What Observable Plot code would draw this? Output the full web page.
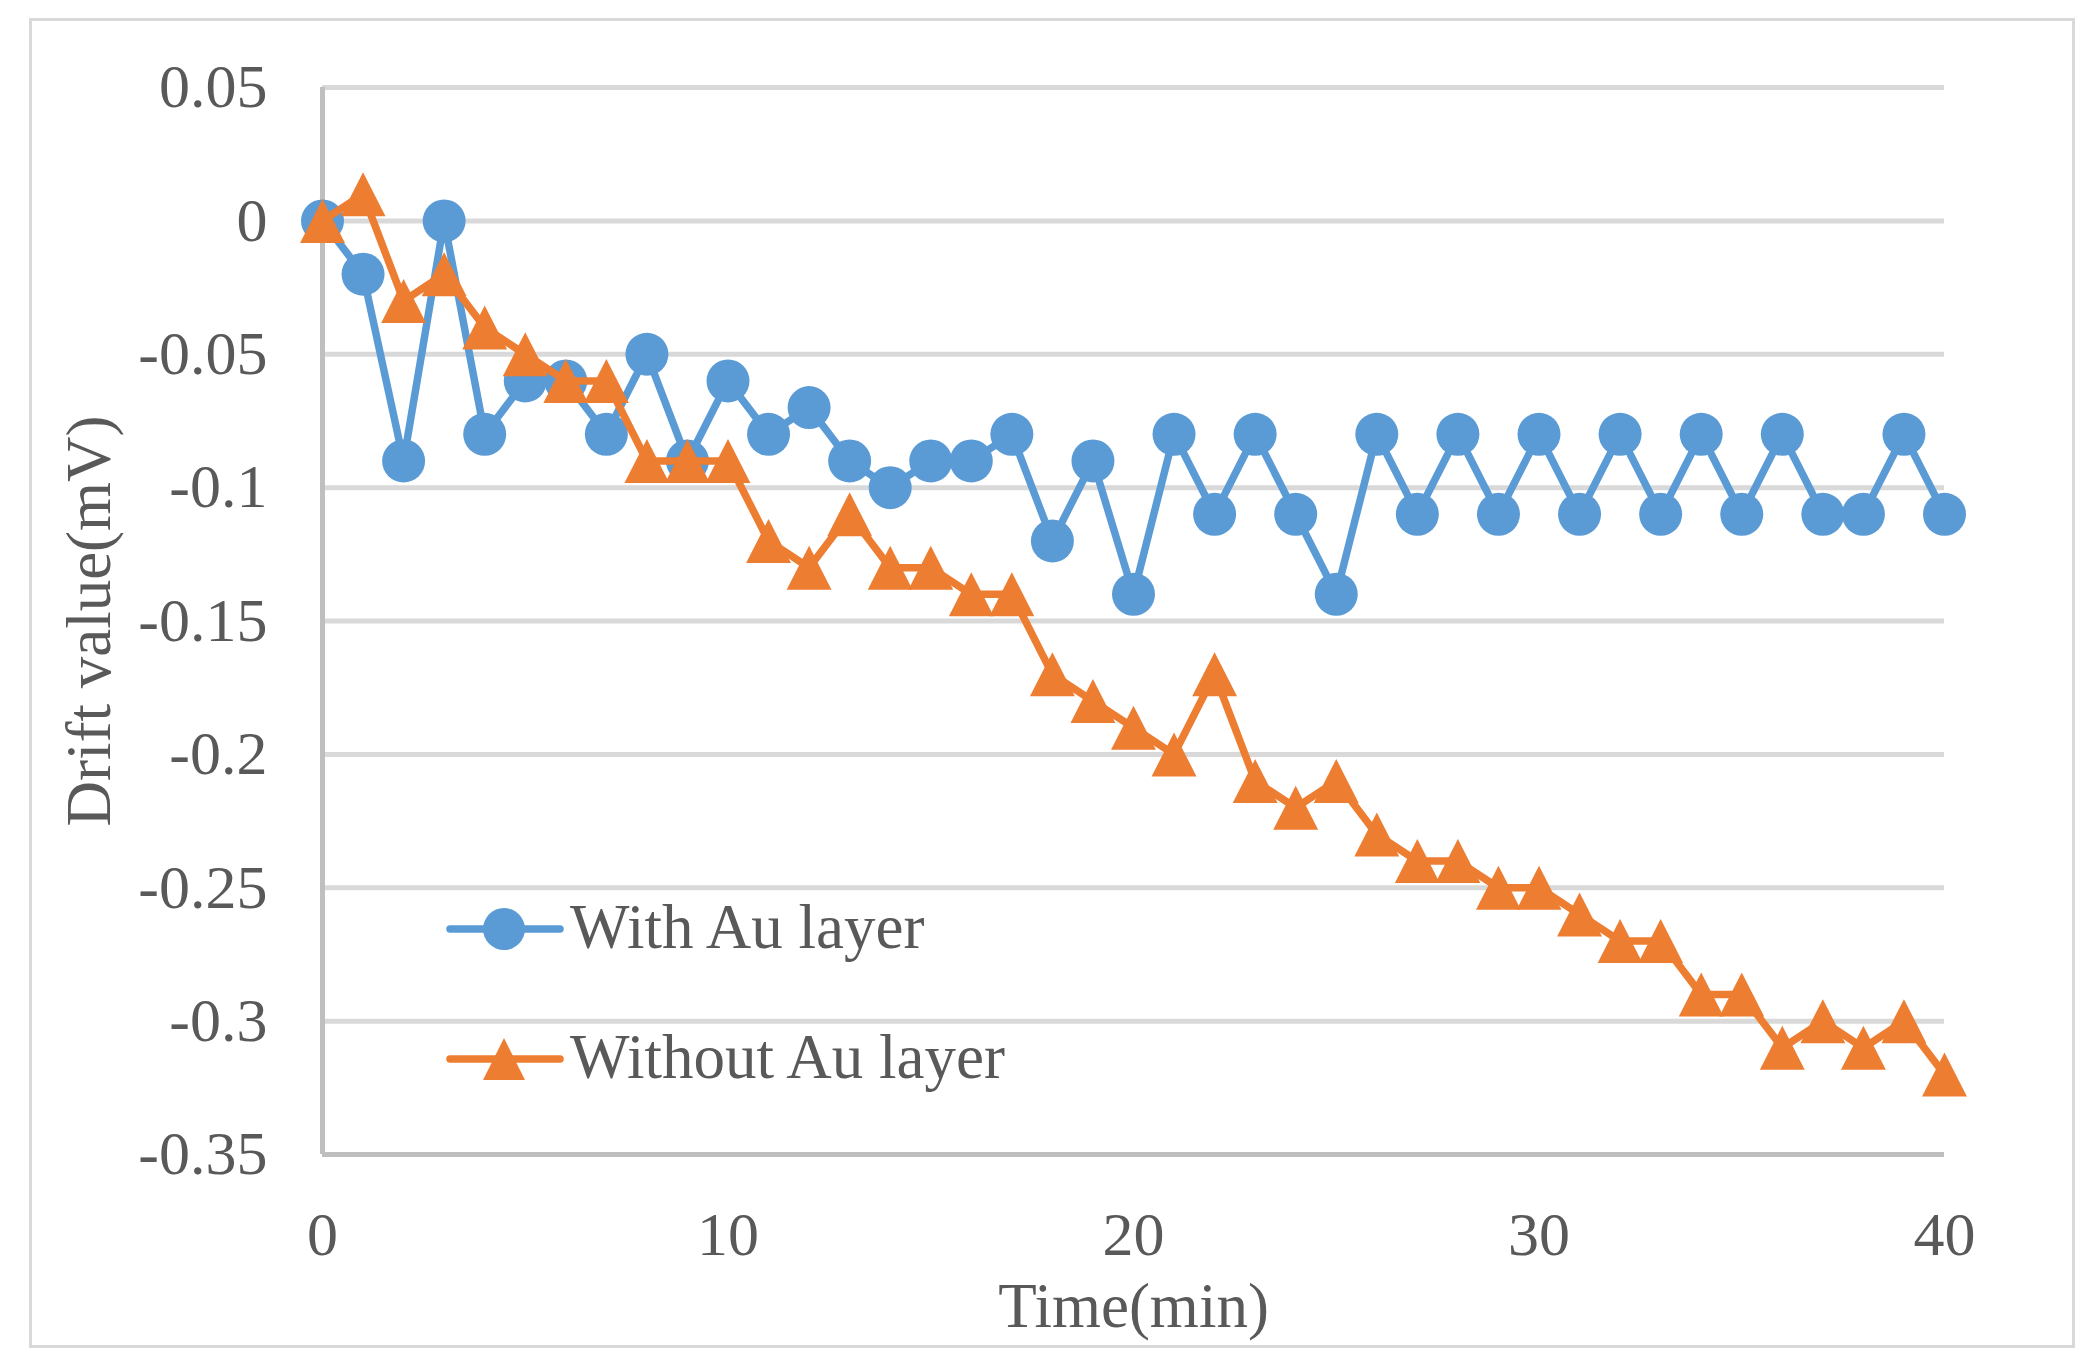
<!DOCTYPE html>
<html>
<head>
<meta charset="utf-8">
<script src="https://cdn.jsdelivr.net/npm/d3@7"></script>
<script src="https://cdn.jsdelivr.net/npm/@observablehq/plot@0.6"></script>
<style>
  html, body { margin: 0; padding: 0; background: #ffffff; }
  #wrap { position: relative; width: 2095px; height: 1368px; overflow: hidden; background: #fff; }
  #border { position: absolute; left: 29px; top: 18px; width: 2040px; height: 1324px; border: 3.5px solid #d9d9d9; box-sizing: content-box; pointer-events: none; }
  #chart { position: absolute; left: 0; top: 0; }
  .legend { position: absolute; left: 446px; font-family: 'Liberation Serif', 'Times New Roman', serif; font-size: 63px; color: #595959; display: flex; align-items: center; white-space: nowrap; }
  .legend svg { display: block; }
</style>
</head>
<body>
<div id="wrap">
  <div id="border"></div>
  <div id="chart"></div>
  <div id="legend"></div>
</div>
<script>
// ---- data ----
const times = [0,1,2,3,4,5,6,7,8,9,10,11,12,13,14,15,16,17,18,19,20,21,22,23,24,25,26,27,28,29,30,31,32,33,34,35,36,37,38,39,40];
const withAu = [0,-0.02,-0.09,0,-0.08,-0.06,-0.06,-0.08,-0.05,-0.09,-0.06,-0.08,-0.07,-0.09,-0.1,-0.09,-0.09,-0.08,-0.12,-0.09,-0.14,-0.08,-0.11,-0.08,-0.11,-0.14,-0.08,-0.11,-0.08,-0.11,-0.08,-0.11,-0.08,-0.11,-0.08,-0.11,-0.08,-0.11,-0.11,-0.08,-0.11];
const withoutAu = [0,0.01,-0.03,-0.02,-0.04,-0.05,-0.06,-0.06,-0.09,-0.09,-0.09,-0.12,-0.13,-0.11,-0.13,-0.13,-0.14,-0.14,-0.17,-0.18,-0.19,-0.2,-0.17,-0.21,-0.22,-0.21,-0.23,-0.24,-0.24,-0.25,-0.25,-0.26,-0.27,-0.27,-0.29,-0.29,-0.31,-0.3,-0.31,-0.3,-0.32];
const seriesNames = ["With Au layer", "Without Au layer"];
const seriesColors = ["#5B9BD5", "#ED7D31"];
const xTicks = [0, 10, 20, 30, 40];
const yTicks = [0.05, 0, -0.05, -0.1, -0.15, -0.2, -0.25, -0.3, -0.35];
const yTickLabels = ["0.05", "0", "-0.05", "-0.1", "-0.15", "-0.2", "-0.25", "-0.3", "-0.35"];
const xLabel = "Time(min)";
const yLabel = "Drift value(mV)";

// ---- tables ----
const dataWith = times.map((t, i) => ({t, v: withAu[i]}));
const dataWithout = times.map((t, i) => ({t, v: withoutAu[i]}));

// custom triangle symbol (about as tall as wide, centred on the point)
const triangle = {
  draw(ctx, size) {
    const r = Math.sqrt(size / Math.PI);
    const hw = r * 1.02, hh = r;
    ctx.moveTo(0, -hh);
    ctx.lineTo(hw, hh);
    ctx.lineTo(-hw, hh);
    ctx.closePath();
  }
};

const fontFam = "'Liberation Serif', 'Times New Roman', serif";

const chart = Plot.plot({
  width: 2095,
  height: 1368,
  marginLeft: 322,
  marginRight: 151,
  marginTop: 87,
  marginBottom: 214,
  style: {fontFamily: fontFam, fontSize: "62px", color: "#595959", background: "transparent", overflow: "visible"},
  x: {domain: [0, 40], ticks: xTicks},
  y: {domain: [-0.35, 0.05], ticks: yTicks},
  marks: [
    Plot.gridY(yTicks.slice(0, -1), {stroke: "#d9d9d9", strokeOpacity: 1, strokeWidth: 5}),
    Plot.ruleX([0], {stroke: "#bfbfbf", strokeWidth: 5}),
    Plot.ruleY([-0.35], {stroke: "#bfbfbf", strokeWidth: 5}),
    Plot.axisY({ticks: yTicks, tickSize: 0, tickPadding: 55, label: null, fontSize: 62,
      tickFormat: d => { const j = yTicks.findIndex(v => Math.abs(v - d) < 1e-9); return j >= 0 ? yTickLabels[j] : ""; }}),
    Plot.axisX({ticks: xTicks, tickSize: 0, tickPadding: 56, label: null, fontSize: 62, tickFormat: d => String(d)}),
    Plot.text([yLabel], {frameAnchor: "left", dx: -213, rotate: -90, lineAnchor: "bottom", textAnchor: "middle", fontSize: 63, fill: "#595959"}),
    Plot.text([xLabel], {frameAnchor: "bottom", dy: 172, lineAnchor: "bottom", textAnchor: "middle", fontSize: 63, fill: "#595959"}),
    Plot.line(dataWith, {x: "t", y: "v", stroke: seriesColors[0], strokeWidth: 7.5, strokeLinejoin: "round", strokeLinecap: "round"}),
    Plot.dot(dataWith, {x: "t", y: "v", r: 21.5, symbol: "circle", fill: seriesColors[0], stroke: "none"}),
    Plot.line(dataWithout, {x: "t", y: "v", stroke: seriesColors[1], strokeWidth: 7.5, strokeLinejoin: "round", strokeLinecap: "round"}),
    Plot.dot(dataWithout, {x: "t", y: "v", r: 22, symbol: triangle, fill: seriesColors[1], stroke: "none"})
  ]
});
document.getElementById("chart").appendChild(chart);

// ---- legend (inside plot area, HTML overlay) ----
const legendTops = [929, 1059];
const legendEl = document.getElementById("legend");
seriesNames.forEach((name, i) => {
  const row = document.createElement("div");
  row.className = "legend";
  row.style.top = (legendTops[i] - 45) + "px";
  row.style.height = "90px";
  const w = 120, h = 90, cy = 45;
  let marker;
  if (i === 0) {
    marker = `<circle cx="58" cy="${cy}" r="21" fill="${seriesColors[i]}"/>`;
  } else {
    marker = `<path d="M58,${cy - 21} L${58 + 21},${cy + 21} L${58 - 21},${cy + 21} Z" fill="${seriesColors[i]}"/>`;
  }
  row.innerHTML = `<svg width="${w}" height="${h}"><line x1="4" x2="114" y1="${cy}" y2="${cy}" stroke="${seriesColors[i]}" stroke-width="7.5" stroke-linecap="round"/>${marker}</svg><span style="margin-left:4px; line-height:90px; position:relative; top:-2px">${name}</span>`;
  legendEl.appendChild(row);
});
</script>
</body>
</html>
